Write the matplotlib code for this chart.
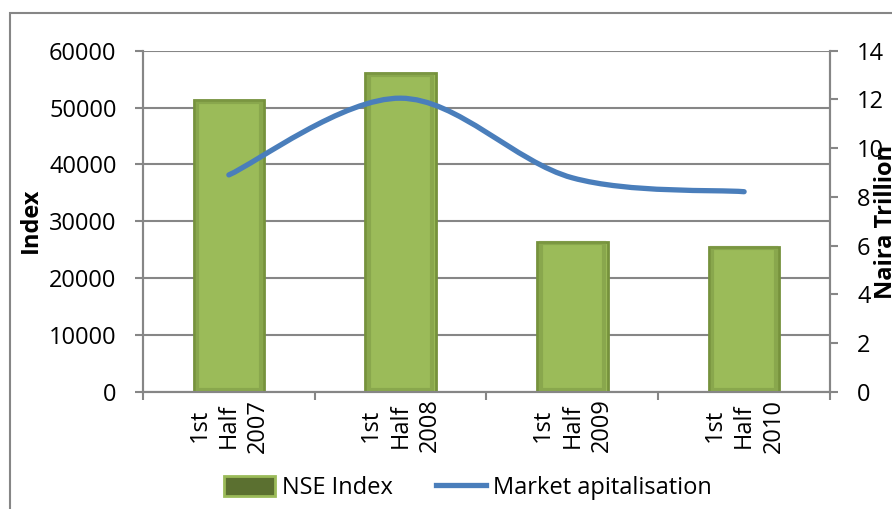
import numpy as np
import matplotlib
matplotlib.use("Agg")
import matplotlib.pyplot as plt
from matplotlib.path import Path
from matplotlib.patches import PathPatch, Patch, Rectangle
from matplotlib.lines import Line2D

categories = ["1st\nHalf\n2007", "1st\nHalf\n2008", "1st\nHalf\n2009", "1st\nHalf\n2010"]
nse_index = [51300, 56000, 26400, 25500]
market_cap = [8.9, 12.05, 8.78, 8.21]

plt.rcParams['font.family'] = ['Open Sans', 'DejaVu Sans']
grey = '#868686'
fs = 17


def smooth_path(xs, ys):
    # excel style smoothed line: bezier through the points (catmull-rom tangents)
    pts = list(zip(xs, ys))
    verts = [pts[0]]
    codes = [Path.MOVETO]
    n = len(pts)
    for i in range(n - 1):
        p0 = pts[i - 1] if i > 0 else pts[i]
        p1 = pts[i]
        p2 = pts[i + 1]
        p3 = pts[i + 2] if i + 2 < n else pts[i + 1]
        c1 = (p1[0] + (p2[0] - p0[0]) / 6, p1[1] + (p2[1] - p0[1]) / 6)
        c2 = (p2[0] - (p3[0] - p1[0]) / 6, p2[1] - (p3[1] - p1[1]) / 6)
        verts += [c1, c2, p2]
        codes += [Path.CURVE4] * 3
    return Path(verts, codes)


fig = plt.figure(figsize=(8.92, 5.09), dpi=100)
ax = fig.add_axes([0.1603, 0.2305, 0.7702, 0.6699])
ax2 = ax.twinx()

# outer chart border
fig.patches.append(Rectangle((10 / 892, -0.2), 1.0, 1.2 - 13 / 509,
                             transform=fig.transFigure, fill=False,
                             edgecolor=grey, lw=1.5))

x = np.arange(len(categories))
ax.bar(x, nse_index, width=0.41, color='#9BBB59', edgecolor='#76923C', lw=2, zorder=3)
# darker inner shading of the bars
for xi, v in zip(x, nse_index):
    ax.bar(xi, v - 500, width=0.37, bottom=250, fill=False,
           edgecolor='#7E9A45', lw=3, alpha=0.6, zorder=3.5)

ax.set_ylim(0, 60000)
ax.set_yticks(np.arange(0, 60001, 10000))
ax.set_xlim(-0.5, 3.5)
ax.set_xticks(x)
ax.set_xticklabels(categories, rotation=90, fontsize=fs, multialignment='center',
                   linespacing=1.3)
ax.set_xticks(np.arange(-0.5, 3.6, 1), minor=True)
ax.tick_params(axis='x', which='major', length=0, pad=5)
ax.tick_params(axis='x', which='minor', length=6, color=grey, width=1.5)
ax.tick_params(axis='y', length=6, color=grey, width=1.5, pad=13, labelsize=fs)
ax.grid(axis='y', color=grey, lw=1.5, zorder=0)
ax.set_axisbelow(True)

ax2.set_ylim(0, 14)
ax2.set_yticks(np.arange(0, 15, 2))
ax2.tick_params(axis='y', length=6, color=grey, width=1.5, pad=13.5, labelsize=fs)
ax2.add_patch(PathPatch(smooth_path(x, market_cap), fill=False, edgecolor='#4A7EBB',
                        lw=3.8, capstyle='round', joinstyle='round', zorder=4))

for a in (ax, ax2):
    for s in a.spines.values():
        s.set_color(grey)
        s.set_linewidth(1.5)
ax2.spines['top'].set_visible(False)
ax.spines['top'].set_visible(False)

fig.text(31 / 892, 1 - 220 / 509, 'Index', rotation=90, ha='center', va='center',
         fontsize=fs, fontweight='bold')
# the right axis title runs off the edge of the picture, as in the source chart
fig.text(874 / 892, 1 - 222 / 509, 'Naira Trillion', rotation=90, ha='left', va='center',
         fontsize=fs, fontweight='bold')

handles = [Patch(facecolor='#5B7030', edgecolor='#9BBB59', lw=2),
           Line2D([0], [0], color='#4A7EBB', lw=3.8)]
fig.legend(handles, ['NSE Index', 'Market apitalisation'], loc='center',
           bbox_to_anchor=(0.525, 1 - 488 / 509), ncol=2, frameon=False, fontsize=fs,
           handlelength=2.15, handleheight=0.9, handletextpad=0.3, columnspacing=1.8)

fig.savefig('out.png', dpi=100)
